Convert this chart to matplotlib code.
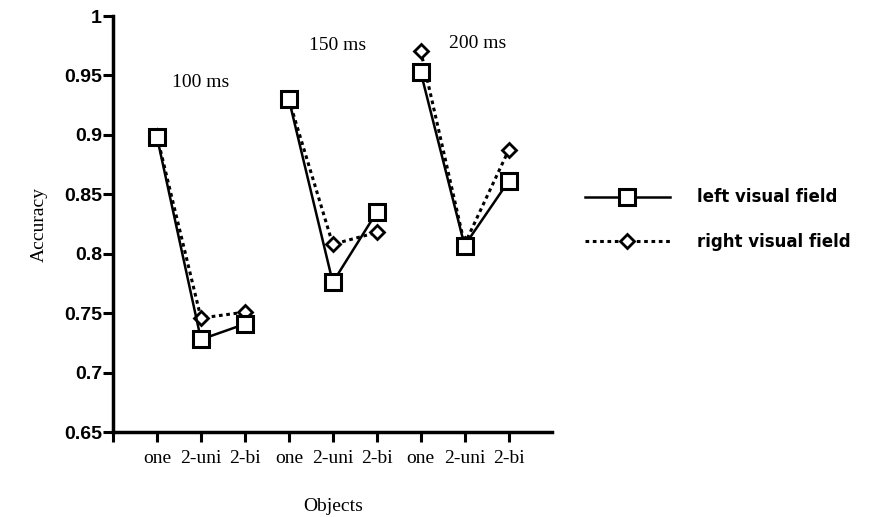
import matplotlib.pyplot as plt
import numpy as np

# data
conditions = ["100 ms", "150 ms", "200 ms"]
objects = ["one", "2-uni", "2-bi"]
left_field = [[0.898, 0.728, 0.741],
              [0.930, 0.776, 0.835],
              [0.953, 0.807, 0.861]]
right_field = [[0.899, 0.746, 0.751],
               [0.930, 0.808, 0.818],
               [0.971, 0.808, 0.887]]

# where the condition labels sit
label_dx = [0.0, 0.1, 0.3]
label_y = [0.944, 0.975, 0.977]

serif = "Liberation Serif"
sans = "Liberation Sans"

fig = plt.figure(figsize=(8.7, 5.17), dpi=100)
ax = fig.add_axes([0.130, 0.164, 0.505, 0.805])

for g in range(len(conditions)):
    x = np.arange(3) + 1 + 3 * g
    ax.plot(x, right_field[g], color="black", lw=2.2, ls=(0, (1.2, 1.2)),
            marker="D", ms=7, mfc="white", mec="black", mew=2.0,
            label="right visual field" if g == 0 else None, zorder=3)
    ax.plot(x, left_field[g], color="black", lw=1.8, ls="-",
            marker="s", ms=11, mfc="white", mec="black", mew=2.2,
            label="left visual field" if g == 0 else None, zorder=4)
    ax.text(x[1] + label_dx[g], label_y[g], conditions[g], ha="center",
            va="center", fontsize=14, family=serif)

ax.set_xlim(0, 10)
ax.set_ylim(0.65, 1.0)
ax.set_xticks(np.arange(10))
ax.set_xticklabels([""] + objects * 3, family=serif, fontsize=14)
ax.set_yticks(np.arange(0.65, 1.001, 0.05))
ax.set_yticklabels(["0.65", "0.7", "0.75", "0.8", "0.85", "0.9", "0.95", "1"],
                   family=sans, fontsize=14, fontweight="bold")
ax.tick_params(axis="both", direction="out", length=7, width=2.2)
ax.tick_params(axis="y", pad=1)
ax.tick_params(axis="x", pad=6)
for side in ["top", "right"]:
    ax.spines[side].set_visible(False)
for side in ["left", "bottom"]:
    ax.spines[side].set_linewidth(2.5)

ax.set_ylabel("Accuracy", family=serif, fontsize=14, labelpad=12)
ax.set_xlabel("Objects", family=serif, fontsize=14, labelpad=22)

handles, labels = ax.get_legend_handles_labels()
order = [1, 0]
fig.legend([handles[i] for i in order], [labels[i] for i in order],
           loc="center left", bbox_to_anchor=(0.655, 0.575), frameon=False,
           handlelength=5.1, labelspacing=1.6, handletextpad=1.6,
           prop={"family": "DejaVu Sans", "size": 12, "weight": "bold"})

fig.savefig("out.png", dpi=100)
